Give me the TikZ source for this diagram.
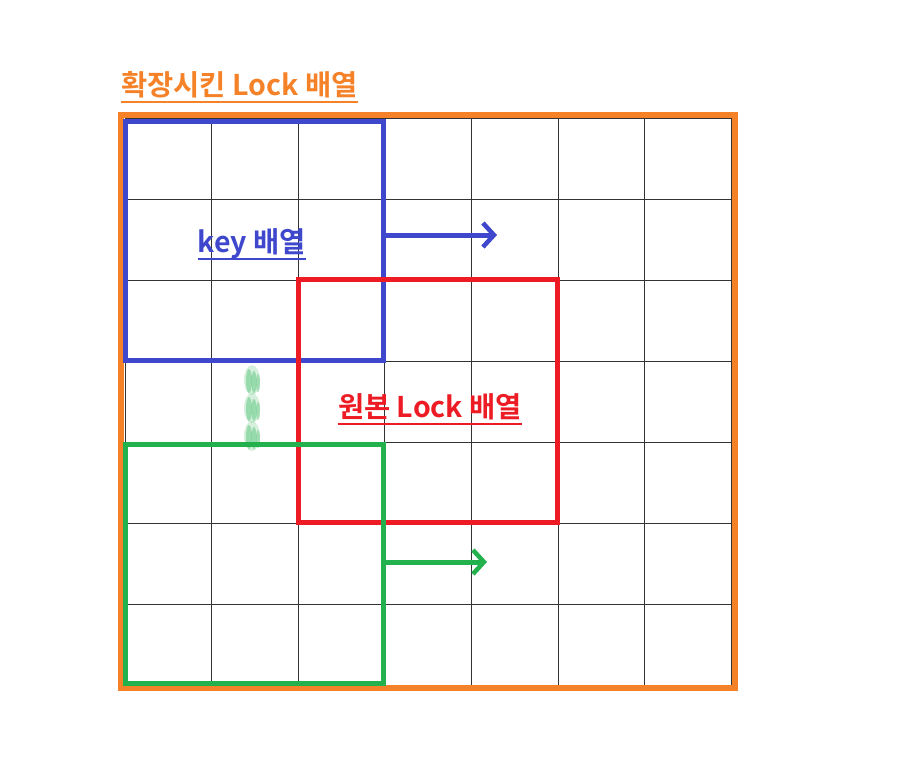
\documentclass[tikz,border=0pt]{standalone}
\usepackage{fontspec}
\newfontfamily\kr{Noto Sans CJK KR Bold}
\usetikzlibrary{arrows.meta}
\definecolor{corange}{RGB}{245,130,40}
\definecolor{cblue}{RGB}{63,72,204}
\definecolor{cred}{RGB}{237,28,36}
\definecolor{cgreen}{RGB}{34,177,76}
\tikzset{
  gridline/.style={black!80, line width=0.7pt},
  box/.style={line width=5pt},
  lbl/.style={font=\kr\fontsize{28.5}{32}\selectfont, inner sep=0pt, anchor=base},
  uline/.style={line width=2.5pt},
  mv/.style={line width=5pt, -{Straight Barb[length=11pt,width=24pt,line width=4.5pt]}},
}
\begin{document}
\begin{tikzpicture}[x=1pt,y=-1pt]
\useasboundingbox (0,0) rectangle (897,780);
\fill[white] (0,0) rectangle (897,780);
% grid
\foreach \i in {0,...,7} {
  \draw[gridline] ({125+\i*86.57},118) -- ({125+\i*86.57},685);
  \draw[gridline] (125,{118+\i*81}) -- (731,{118+\i*81});
}
% outer orange
\draw[box, corange, line width=5.5pt] (121,115) rectangle (735,688);
% blue
\draw[box, cblue] (125,121) rectangle (383,360);
% red
\draw[box, cred] (298,279) rectangle (557,522);
% green
\draw[box, cgreen] (125,444) rectangle (383,683);
% arrows
\coordinate (ba) at (383,235);
\coordinate (bb) at (497,235);
\draw[mv, cblue] (ba) -- (bb);
\coordinate (ga) at (383,562);
\coordinate (gb) at (487,562);
\draw[mv, cgreen] (ga) -- (gb);
% labels
\node[lbl, text=corange, anchor=base west] (t1) at (121,95) {확장시킨 Lock 배열};
\draw[uline, corange] ([yshift=-7pt]t1.base west) -- ([yshift=-7pt]t1.base east);
\node[lbl, text=cblue] (t2) at (252,252) {key 배열};
\draw[uline, cblue] ([yshift=-7pt]t2.base west) -- ([yshift=-7pt]t2.base east);
\node[lbl, text=cred] (t3) at (430,417) {원본 Lock 배열};
\draw[uline, cred] ([yshift=-7pt]t3.base west) -- ([yshift=-7pt]t3.base east);
% green drop marks
\foreach \yy in {380,408,436} {
  \fill[cgreen, opacity=0.18] (252,\yy) ellipse (8pt and 15pt);
  \fill[cgreen, opacity=0.35] (249,{\yy+1}) ellipse (3pt and 12pt);
  \fill[cgreen, opacity=0.35] (254,{\yy+2}) ellipse (2.5pt and 11pt);
  \fill[cgreen, opacity=0.3] (258,{\yy+3}) ellipse (2pt and 9pt);
}
\end{tikzpicture}
\end{document}
